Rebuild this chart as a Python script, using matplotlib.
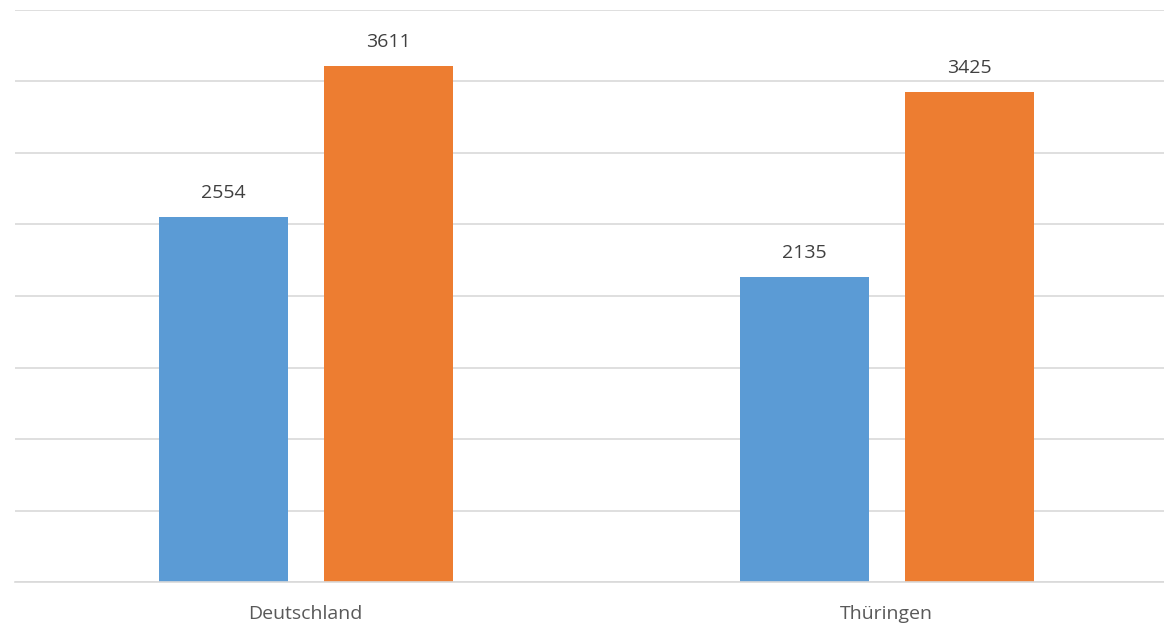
import matplotlib
matplotlib.use("Agg")
import matplotlib.pyplot as plt
import numpy as np

categories = ["Deutschland", "Thüringen"]
series_blue = [2554, 2135]
series_orange = [3611, 3425]

plt.rcParams['font.family'] = ['Open Sans', 'DejaVu Sans']

W, H = 1164, 629
fig = plt.figure(figsize=(W / 100, H / 100), dpi=100)
ax = fig.add_axes([15 / W, (H - 582) / H, (1164 - 15) / W, (582 - 10) / H])

x = np.arange(len(categories))
bw = 0.222
off = 0.1425
b1 = ax.bar(x - off + 0.001, series_blue, bw, color="#5B9BD5", zorder=3)
b2 = ax.bar(x + off + 0.001, series_orange, bw, color="#ED7D31", zorder=3)

for bars in (b1, b2):
    for r in bars:
        ax.annotate(f"{int(r.get_height())}", (r.get_x() + r.get_width() / 2, r.get_height()),
                    xytext=(0, 13.5), textcoords="offset points", ha="center", va="baseline",
                    fontsize=14, color="#404040")

ax.set_xlim(-0.5, -0.5 + (1164 - 15) / 581)
ax.set_ylim(0, 4000)
ax.set_yticks(np.arange(0, 4001, 500))
ax.set_yticklabels([])
ax.tick_params(axis="y", length=0)
ax.grid(axis="y", color="#D9D9D9", linewidth=1.2, zorder=0)
ax.set_xticks(x)
ax.set_xticklabels(categories, fontsize=14, color="#595959")
ax.tick_params(axis="x", length=0, pad=16.5)
for s in ["top", "right", "left"]:
    ax.spines[s].set_visible(False)
ax.spines["bottom"].set_color("#D9D9D9")
ax.spines["bottom"].set_linewidth(1.2)
ax.spines["bottom"].set_zorder(4)

fig.savefig("out.png", dpi=100)
